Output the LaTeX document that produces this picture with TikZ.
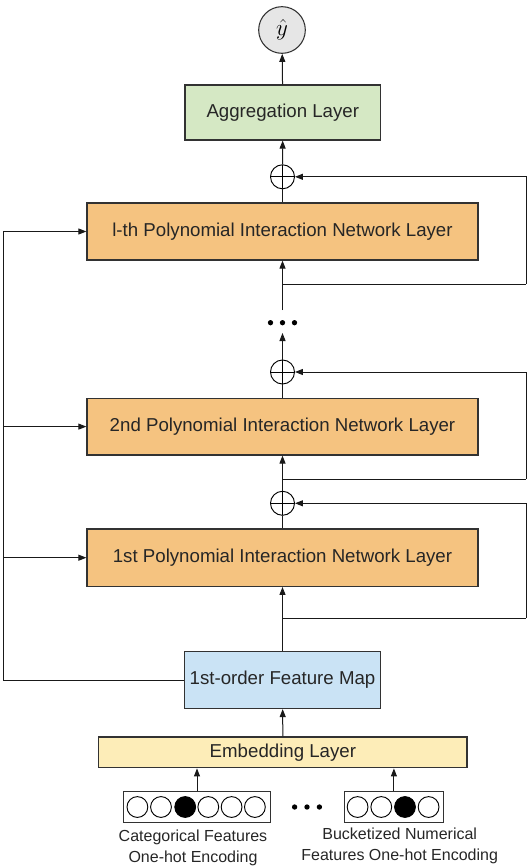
\documentclass[tikz,border=0pt]{standalone}
\usepackage{fontspec}
\setmainfont{Liberation Sans}
\usetikzlibrary{arrows.meta}
\definecolor{aggG}{RGB}{213,232,196}
\definecolor{pinO}{RGB}{245,195,128}
\definecolor{fmB}{RGB}{202,227,245}
\definecolor{embY}{RGB}{253,237,184}
\definecolor{yhG}{RGB}{230,230,230}
\definecolor{edgeC}{RGB}{50,50,50}
\begin{document}
\begin{tikzpicture}[x=0.75pt,y=-0.75pt,
  box/.style={draw=edgeC,line width=0.9pt,inner sep=0pt,font=\fontsize{14}{16}\selectfont,text=black!85},
  arr/.style={line width=0.75pt,draw=black!90,-{Triangle[length=6pt,width=4.5pt]}},
  ln/.style={line width=0.75pt,draw=black!90},
  plus/.style={circle,draw=black,line width=0.7pt,minimum size=18pt,inner sep=0pt,
    path picture={\draw[line width=0.7pt] (path picture bounding box.north) -- (path picture bounding box.south)
      (path picture bounding box.west) -- (path picture bounding box.east);}},
  bit/.style={circle,draw=black,line width=0.7pt,minimum size=15.6pt,inner sep=0pt},
  dotn/.style={circle,fill=black,minimum size=4pt,inner sep=0pt},
  lab/.style={font=\fontsize{12}{15.4}\selectfont,align=center,text=black!85,inner sep=0pt}
]
\useasboundingbox (0,0) rectangle (528,866);
% main nodes
\node[circle,draw=edgeC,line width=0.8pt,fill=yhG,minimum size=35pt,inner sep=0pt] (yhat) at (282,30) {\fontsize{19}{19}\selectfont$\hat{y}$};
\node[box,fill=aggG,minimum width=146.8pt,minimum height=41.25pt] (agg) at (282.8,112.5) {Aggregation Layer};
\node[plus] (p3) at (282.5,176.8) {};
\node[box,fill=pinO,minimum width=293.3pt,minimum height=42.75pt] (lth) at (282.5,231.5) {l-th Polynomial Interaction Network Layer};
\node[dotn] (d1) at (270.5,322.7) {};
\node[dotn] (d2) at (282.5,322.7) {};
\node[dotn] (d3) at (294.5,322.7) {};
\node[plus] (p2) at (282.5,372) {};
\node[box,fill=pinO,minimum width=293.3pt,minimum height=42.6pt] (l2) at (282.5,426.6) {2nd Polynomial Interaction Network Layer};
\node[plus] (p1) at (282.5,503.3) {};
\node[box,fill=pinO,minimum width=293.3pt,minimum height=43pt] (l1) at (282.5,557.7) {1st Polynomial Interaction Network Layer};
\node[box,fill=fmB,minimum width=147pt,minimum height=42.7pt] (fmap) at (282.5,680) {1st-order Feature Map};
\node[box,fill=embY,minimum width=276.2pt,minimum height=23.1pt] (emb) at (282.9,752.4) {Embedding Layer};
% input encodings
\node[draw=edgeC,line width=0.9pt,minimum width=110.1pt,minimum height=23.8pt,inner sep=0pt] (cat) at (197,807) {};
\node[draw=edgeC,line width=0.9pt,minimum width=74.25pt,minimum height=23.8pt,inner sep=0pt] (buck) at (393.9,807) {};
\foreach \i/\x/\f in {1/137.4/white,2/161/white,3/185.2/black,4/208.3/white,5/231.6/white,6/254.9/white}
  \node[bit,fill=\f] (c\i) at (\x,807) {};
\foreach \i/\x/\f in {1/357.6/white,2/381.3/white,3/405/black,4/428.6/white}
  \node[bit,fill=\f] (b\i) at (\x,807) {};
\node[dotn] (e1) at (294.6,807) {};
\node[dotn] (e2) at (307,807) {};
\node[dotn] (e3) at (319.4,807) {};
\node[lab] (catlab) at (193,847.7) {Categorical Features\\One-hot Encoding};
\node[lab] (bucklab) at (399.7,845.8) {Bucketized Numerical\\Features One-hot Encoding};
% helper coordinates
\coordinate (t1) at (282.5,310);
\coordinate (t2) at (282.5,333);
\coordinate (b3) at (282.5,284);
\coordinate (b2) at (282.5,479);
\coordinate (b1) at (282.5,618);
\coordinate (r3) at (526,284);
\coordinate (r2) at (526,479);
\coordinate (r1) at (526,618);
\coordinate (lx3) at (3,231.5);
\coordinate (lx2) at (3,426.6);
\coordinate (lx1) at (3,557.7);
% connectors
\draw[arr] (agg) -- (yhat);
\draw[arr] (p3) -- (agg);
\draw[ln] (lth) -- (p3);
\draw[arr] (t1) -- (lth);
\draw[ln] (b3) -- (r3);
\draw[arr] (r3) |- (p3.east);
\draw[arr] (p2) -- (t2);
\draw[ln] (l2) -- (p2);
\draw[arr] (p1) -- (l2);
\draw[ln] (b2) -- (r2);
\draw[arr] (r2) |- (p2.east);
\draw[ln] (l1) -- (p1);
\draw[arr] (fmap) -- (l1);
\draw[ln] (b1) -- (r1);
\draw[arr] (r1) |- (p1.east);
\draw[ln] (fmap.west) -| (lx3);
\draw[arr] (lx3) -- (lth.west);
\draw[arr] (lx2) -- (l2.west);
\draw[arr] (lx1) -- (l1.west);
\draw[arr] (emb) -- (fmap);
\draw[arr] (cat.north) -- (cat.north |- emb.south);
\draw[arr] (buck.north) -- (buck.north |- emb.south);
\end{tikzpicture}
\end{document}
